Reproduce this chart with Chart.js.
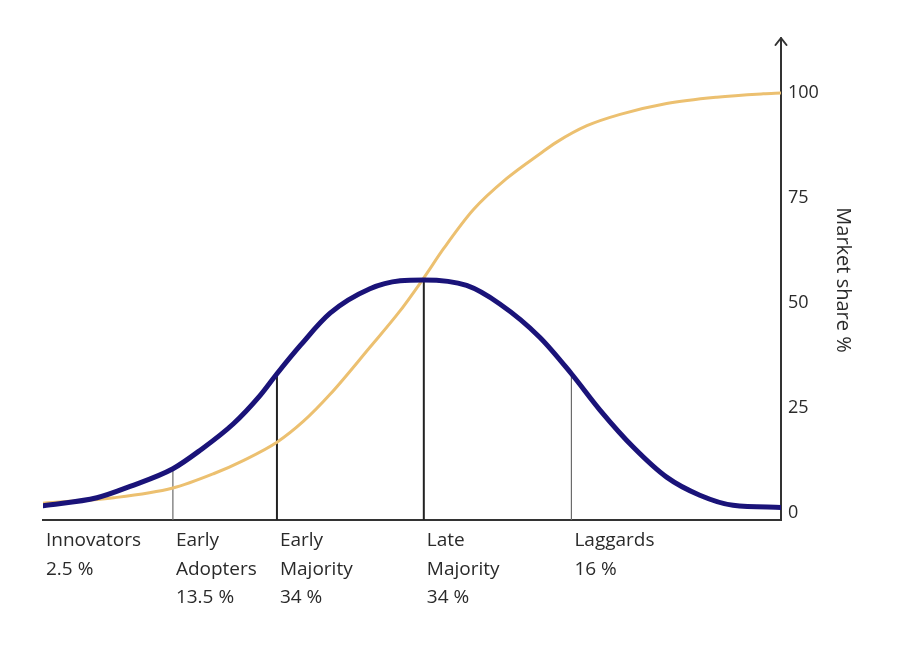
<!DOCTYPE html>
<html>
<head>
<meta charset="utf-8">
<script src="https://cdn.jsdelivr.net/npm/chart.js@4/dist/chart.umd.min.js"></script>
<style>
  html, body { margin: 0; padding: 0; background: #ffffff; }
  #wrap { width: 905px; height: 650px; position: relative; }
</style>
</head>
<body>
<div id="wrap"><canvas id="c" width="905" height="650"></canvas></div>
<script>
// ---- Data ----
// x: time along the adoption curve (0 = left end, 100 = right axis)
const adoptionX   = [0, 7.3, 11.8, 17.6, 21.3, 25.8, 29.4, 31.7, 34.9, 38.9, 44.3, 48.4, 51.6, 57.4, 61.9, 67.3, 71.6, 75.5, 80.0, 84.5, 89.0, 93.5, 100];
const adoptionY   = [1.8, 3.7, 6.4, 10.6, 15.0, 21.3, 28.0, 33.2, 40.0, 47.6, 53.4, 55.3, 55.5, 54.2, 49.8, 41.9, 33.2, 24.5, 15.7, 8.6, 4.3, 1.9, 1.4];

const shareX      = [0, 9.6, 17.6, 23.1, 27.2, 31.7, 35.3, 38.9, 44.3, 48.4, 51.6, 54.3, 58.3, 62.8, 67.4, 69.6, 73.7, 78.2, 84.5, 91.3, 97.6, 100];
const shareY      = [2.4, 3.7, 6.0, 9.4, 12.6, 16.9, 21.9, 28.3, 39.5, 48.2, 56.0, 63.0, 72.2, 79.6, 85.6, 88.3, 92.2, 94.9, 97.5, 99.0, 99.8, 100];

// Segment boundaries (vertical lines) and their heights on the bell curve
const boundaryX   = [17.6, 31.7, 51.6, 71.6];
const boundaryTop = [10.6, 33.2, 55.5, 33.2];

// Category labels under the axis, each starting at a segment start
const segmentStart = [0, 17.6, 31.7, 51.6, 71.6];
const categories = [
  ["Innovators", "2.5 %"],
  ["Early", "Adopters", "13.5 %"],
  ["Early", "Majority", "34 %"],
  ["Late", "Majority", "34 %"],
  ["Laggards", "16 %"]
];

const yTicks = [0, 25, 50, 75, 100];
const yTitle = "Market share %";
const yMin = -1.6, yMax = 112.6;

// ---- Build datasets ----
const toPts = (xs, ys) => xs.map((x, i) => ({ x: x, y: ys[i] }));

const boundaryStyles = [
  { color: '#6b6b6b', width: 1.2 },
  { color: '#222222', width: 2 },
  { color: '#222222', width: 2 },
  { color: '#6b6b6b', width: 1.2 }
];

const datasets = [
  {
    label: 'Adopters',
    data: toPts(adoptionX, adoptionY),
    borderColor: '#1a1379',
    borderWidth: 5,
    pointRadius: 0,
    cubicInterpolationMode: 'monotone',
    borderCapStyle: 'round',
    borderJoinStyle: 'round'
  },
  {
    label: 'Market share',
    data: toPts(shareX, shareY),
    borderColor: '#ecc070',
    borderWidth: 3,
    pointRadius: 0,
    cubicInterpolationMode: 'monotone',
    borderCapStyle: 'round'
  }
];
boundaryX.forEach((bx, i) => {
  datasets.push({
    label: 'b' + i,
    data: [{ x: bx, y: yMin }, { x: bx, y: boundaryTop[i] }],
    borderColor: boundaryStyles[i].color,
    borderWidth: boundaryStyles[i].width,
    pointRadius: 0,
    tension: 0
  });
});

const FONT = "'Open Sans', 'DejaVu Sans', sans-serif";
const TEXT = '#2a2a2a';

const extrasPlugin = {
  id: 'extras',
  afterDraw(chart) {
    const ctx = chart.ctx;
    const xs = chart.scales.x;
    const ca = chart.chartArea;
    ctx.save();
    // arrow head on the right axis
    ctx.strokeStyle = '#333';
    ctx.lineWidth = 2;
    ctx.lineCap = 'round';
    ctx.lineJoin = 'round';
    const ax = ca.right, ay = ca.top - 2;
    ctx.beginPath();
    ctx.moveTo(ax - 5.5, ay + 7);
    ctx.lineTo(ax, ay);
    ctx.lineTo(ax + 5.5, ay + 7);
    ctx.stroke();
    ctx.beginPath();
    ctx.moveTo(ax, ay);
    ctx.lineTo(ax, ca.top + 2);
    ctx.stroke();

    // category labels
    ctx.fillStyle = TEXT;
    ctx.font = '19px ' + FONT;
    ctx.textAlign = 'left';
    ctx.textBaseline = 'middle';
    categories.forEach((lines, i) => {
      const px = xs.getPixelForValue(segmentStart[i]) + 3;
      lines.forEach((t, k) => {
        ctx.fillText(t, px, ca.bottom + 21 + k * 28.5);
      });
    });
    ctx.restore();
  }
};

new Chart(document.getElementById('c'), {
  type: 'line',
  data: { datasets: datasets },
  options: {
    responsive: false,
    animation: false,
    events: [],
    layout: { padding: { left: 43, right: 44, top: 40, bottom: 120 } },
    plugins: {
      legend: { display: false },
      tooltip: { enabled: false }
    },
    scales: {
      x: {
        type: 'linear',
        min: 0,
        max: 100,
        position: 'bottom',
        ticks: { display: false },
        grid: { display: false, drawTicks: false },
        border: { display: true, color: '#333', width: 2 },
        afterFit(s) { s.height = 10; s.paddingLeft = 0; s.paddingRight = 0; }
      },
      y: {
        type: 'linear',
        position: 'right',
        min: yMin,
        max: yMax,
        afterBuildTicks(s) { s.ticks = yTicks.map(v => ({ value: v })); },
        ticks: {
          color: TEXT,
          padding: 7,
          font: { family: FONT, size: 18 },
          callback: (v) => String(v)
        },
        grid: { display: false, drawTicks: false },
        border: { display: true, color: '#333', width: 2 },
        title: {
          display: true,
          text: yTitle,
          color: TEXT,
          font: { family: FONT, size: 20 },
          padding: { top: 6, bottom: 0 }
        },
        afterFit(s) { s.width = 80; s.paddingTop = 0; s.paddingBottom = 0; }
      }
    }
  },
  plugins: [extrasPlugin]
});
</script>
</body>
</html>
